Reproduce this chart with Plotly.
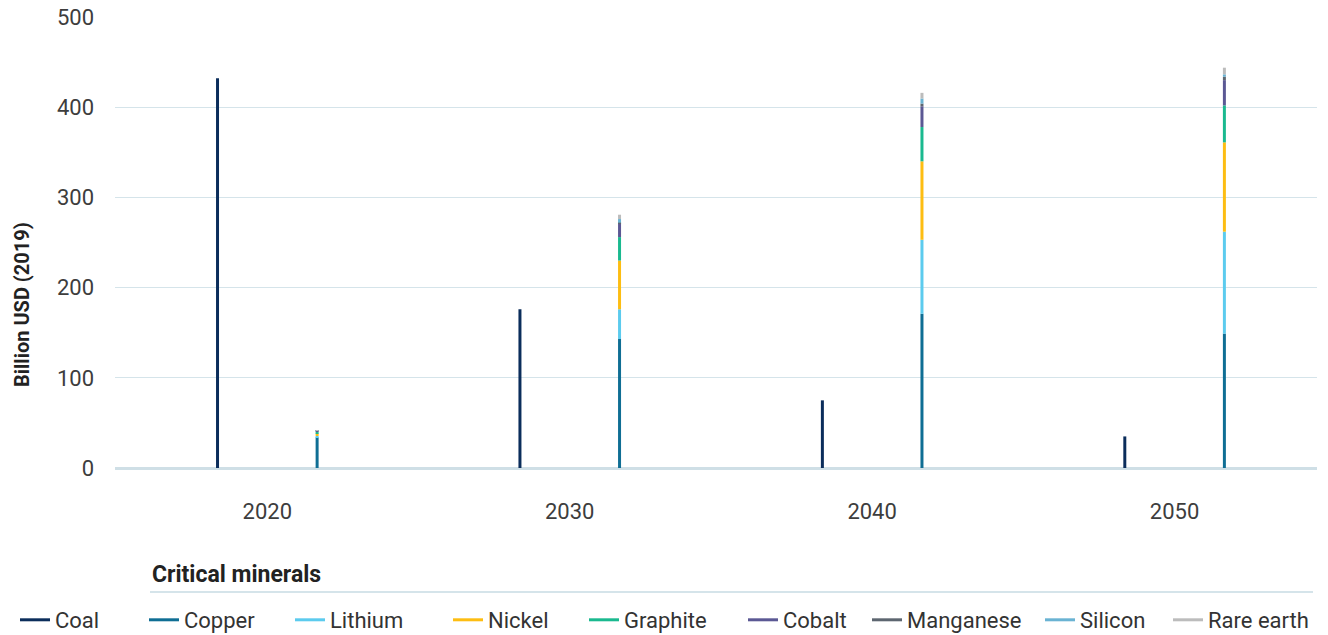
import numpy as np
import plotly.graph_objects as go

years = ["2020", "2030", "2040", "2050"]
coal = [432, 176, 75, 35]
minerals = ["Copper", "Lithium", "Nickel", "Graphite", "Cobalt", "Manganese", "Silicon", "Rare earth"]
copper = [34, 143, 171, 149]
lithium = [1.5, 33, 82, 113]
nickel = [3, 54, 87, 99]
graphite = [2, 26, 38, 41]
cobalt = [0.8, 15.5, 23, 28]
manganese = [0.1, 0.5, 3, 3.8]
silicon = [0.2, 4, 5.6, 2.6]
rare_earth = [0.4, 4.8, 6.3, 7.4]
mineral_values = [copper, lithium, nickel, graphite, cobalt, manganese, silicon, rare_earth]

coal_color = "#0b2d5b"
mineral_colors = ["#0f6e94", "#5ccbee", "#fdbd12", "#1ab98f", "#5b5894", "#5d6670", "#6ab3d3", "#bcbcbc"]

FONT = "Roboto, DejaVu Sans, sans-serif"
L, R, T, B = 115, 11, 17, 167
W, H = 1328, 635
PW, PH = W - L - R, H - T - B

def px_x(px):
    return (px - L) / PW

def px_y(py):
    return (H - B - py) / PH

fig = go.Figure()
bar_w = 0.0099
fig.add_trace(go.Bar(x=years, y=coal, width=bar_w, offset=-0.1645 - bar_w / 2,
                     marker=dict(color=coal_color, line=dict(width=0)),
                     showlegend=False, legendgroup="Coal", name="Coal"))
base = np.zeros(len(years))
for name, vals, col in zip(minerals, mineral_values, mineral_colors):
    fig.add_trace(go.Bar(x=years, y=vals, base=base.copy(), width=bar_w,
                         offset=0.1648 - bar_w / 2,
                         marker=dict(color=col, line=dict(width=0)),
                         showlegend=False, legendgroup=name, name=name))
    base = base + np.array(vals)

# legend entries (line symbols), each in its own legend for exact placement
legend_names = ["Coal"] + minerals
legend_colors = [coal_color] + mineral_colors
legend_text_px = [53, 182, 328, 486, 622, 781, 905, 1078, 1206]
layout_legends = {}
for i, (name, col, tx) in enumerate(zip(legend_names, legend_colors, legend_text_px)):
    key = "legend" if i == 0 else f"legend{i+1}"
    fig.add_trace(go.Scatter(x=[None], y=[None], mode="lines", name=name,
                             line=dict(color=col, width=3), legendgroup=name,
                             legend=key, showlegend=True))
    layout_legends[key] = dict(x=px_x(tx - 38), xanchor="left", y=px_y(620), yanchor="middle",
                               orientation="h", bgcolor="rgba(0,0,0,0)",
                               font=dict(family=FONT, size=22, color="#333333"),
                               itemwidth=30)

fig.update_layout(
    width=W, height=H,
    margin=dict(l=L, r=R, t=T, b=B, autoexpand=False),
    barmode="overlay",
    plot_bgcolor="white", paper_bgcolor="white",
    font=dict(family=FONT, size=22, color="#3d3d3d"),
    xaxis=dict(type="category", range=[-0.5035, 3.471], showgrid=False,
               showline=True, linecolor="#cfdfe6", linewidth=1.5,
               ticks="", ticklabelstandoff=23,
               tickfont=dict(family=FONT, size=22, color="#3d3d3d")),
    yaxis=dict(range=[0, 500], tickvals=[0, 100, 200, 300, 400, 500],
               showgrid=True, gridcolor="#d5e4ea", gridwidth=1,
               zeroline=True, zerolinecolor="#cfdfe6", zerolinewidth=1.5,
               showline=False, ticks="", ticklabelstandoff=20,
               tickfont=dict(family=FONT, size=22, color="#3d3d3d")),
    annotations=[
        dict(text="<b>Billion USD (2019)</b>", x=px_x(22), y=px_y(305), xref="paper", yref="paper",
             textangle=-90, showarrow=False, xanchor="center", yanchor="middle",
             font=dict(family=FONT, size=20, color="#222222")),
        dict(text="<b>Critical minerals</b>", x=px_x(150), y=px_y(574), xref="paper", yref="paper",
             showarrow=False, xanchor="left", yanchor="middle",
             font=dict(family=FONT, size=23, color="#222222")),
    ],
    shapes=[
        dict(type="line", xref="paper", yref="paper", x0=px_x(150), x1=px_x(1313),
             y0=px_y(592), y1=px_y(592), line=dict(color="#d5e4ea", width=2)),
    ],
    **layout_legends,
)

fig.write_html("out.html", config={"displayModeBar": False},
               post_script="document.body.style.margin='0';")
